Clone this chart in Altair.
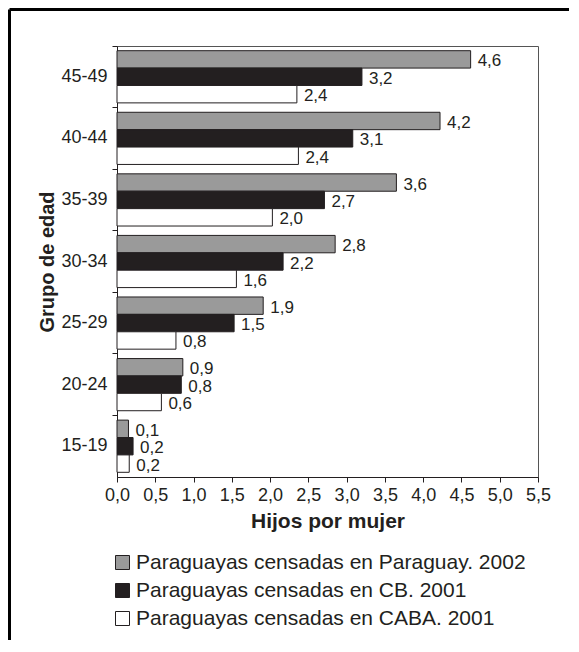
import altair as alt
import pandas as pd

groups = ["45-49", "40-44", "35-39", "30-34", "25-29", "20-24", "15-19"]
series = [
    "Paraguayas censadas en Paraguay. 2002",
    "Paraguayas censadas en CB. 2001",
    "Paraguayas censadas en CABA. 2001",
]
paraguay = [4.62, 4.22, 3.65, 2.85, 1.91, 0.86, 0.15]
cb = [3.20, 3.08, 2.71, 2.17, 1.53, 0.84, 0.21]
caba = [2.35, 2.37, 2.03, 1.56, 0.77, 0.58, 0.16]
paraguay_lbl = ["4,6", "4,2", "3,6", "2,8", "1,9", "0,9", "0,1"]
cb_lbl = ["3,2", "3,1", "2,7", "2,2", "1,5", "0,8", "0,2"]
caba_lbl = ["2,4", "2,4", "2,0", "1,6", "0,8", "0,6", "0,2"]
colors = ["#9a9a9a", "#231f20", "#ffffff"]
x_ticks = [0.0, 0.5, 1.0, 1.5, 2.0, 2.5, 3.0, 3.5, 4.0, 4.5, 5.0, 5.5]

rows = []
for s, vals, lbls in zip(series, [paraguay, cb, caba], [paraguay_lbl, cb_lbl, caba_lbl]):
    for g, v, l in zip(groups, vals, lbls):
        rows.append({"group": g, "series": s, "value": v, "label": l})
df = pd.DataFrame(rows)

FONT = "Liberation Sans"
INK = "#231f20"

y_enc = alt.Y(
    "group:N", sort=groups,
    scale=alt.Scale(paddingInner=0, paddingOuter=0),
    axis=alt.Axis(title="Grupo de edad", bandPosition=0, labelFontSize=18,
                  labelPadding=5, tickSize=5, titleFontSize=20, titleFontWeight="bold",
                  titlePadding=3, domainColor=INK, tickColor=INK, labelColor=INK,
                  titleColor=INK),
)
yoff_enc = alt.YOffset("series:N", sort=series,
                       scale=alt.Scale(paddingInner=0, paddingOuter=0.27))
x_enc = alt.X(
    "value:Q",
    scale=alt.Scale(domain=[0, 5.5], nice=False, zero=True),
    axis=alt.Axis(title="Hijos por mujer", values=x_ticks, grid=False,
                  labelExpr="replace(format(datum.value, '.1f'), '.', ',')",
                  labelFontSize=18, labelPadding=4, tickSize=5, titleFontSize=21,
                  titleFontWeight="bold", titlePadding=6, domainColor=INK,
                  tickColor=INK, labelColor=INK, titleColor=INK, labelFlush=False,
                  labelOverlap=False),
)

base = alt.Chart(df)

bars = base.mark_bar(stroke=INK, strokeWidth=1).encode(
    x=x_enc, y=y_enc, yOffset=yoff_enc,
    color=alt.Color(
        "series:N", sort=series,
        scale=alt.Scale(domain=series, range=colors),
        legend=alt.Legend(
            title=None, orient="none", legendX=-5, legendY=506,
            symbolType="square", symbolSize=196, symbolStrokeColor=INK,
            symbolStrokeWidth=1, labelFontSize=21, labelColor=INK,
            labelOffset=3, rowPadding=6, labelLimit=500,
        ),
    ),
)

labels = base.mark_text(align="left", baseline="middle", dx=7, dy=2,
                        fontSize=17, color=INK).encode(
    x=x_enc, y=y_enc, yOffset=yoff_enc,
    text="label:N",
)

one = pd.DataFrame({"a": [0]})
top_rule = alt.Chart(one).mark_rule(color="#000000", strokeWidth=3, strokeCap="butt").encode(
    x=alt.value(-107.5), x2=alt.value(452), y=alt.value(-36.5)
)
left_rule = alt.Chart(one).mark_rule(color="#000000", strokeWidth=3, strokeCap="butt").encode(
    x=alt.value(-107.5), y=alt.value(-36.5), y2=alt.value(594)
)

chart = alt.layer(bars, labels, top_rule, left_rule).properties(
    width=421, height=431, padding=0
).configure(
    font=FONT
).configure_view(
    stroke="#555555", strokeWidth=1
)

chart.save("out.html", embed_options={"renderer": "svg", "actions": False})
